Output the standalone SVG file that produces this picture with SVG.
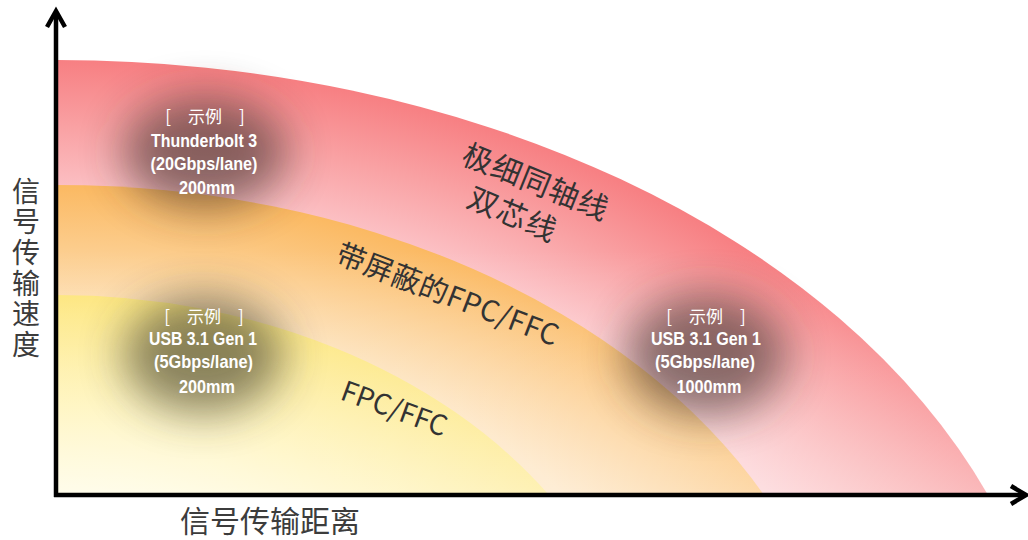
<svg xmlns="http://www.w3.org/2000/svg" width="1028" height="540" viewBox="0 0 1028 540">
<style>
.ex{font-family:"Liberation Sans",Arial,sans-serif;font-weight:bold;font-size:19px;fill:#ffffff;text-anchor:middle}
.br{font-family:"Noto Sans CJK SC","Noto Sans",sans-serif;font-size:17px;fill:#ffffff;text-anchor:middle}
.big{font-family:"Noto Sans CJK SC","Noto Sans",sans-serif;fill:#333333}
.ax{font-family:"Noto Sans CJK SC","Noto Sans",sans-serif;fill:#3c3c3c}
.axis{stroke:#000;stroke-width:4.5;fill:none}
.blob{opacity:0.6}
</style>
<defs>
<radialGradient id="gRed" gradientUnits="userSpaceOnUse" cx="57" cy="745" r="685" gradientTransform="translate(57 745) scale(1.46 1) translate(-57 -745)">
<stop offset="0.80" stop-color="#fcc4c8"/>
<stop offset="0.9" stop-color="#f9a2a4"/>
<stop offset="1" stop-color="#f77f82"/>
</radialGradient>
<radialGradient id="gOrange" gradientUnits="userSpaceOnUse" cx="57" cy="745" r="560" gradientTransform="translate(57 745) scale(1.411 1) translate(-57 -745)">
<stop offset="0.78" stop-color="#fddfb4"/>
<stop offset="1" stop-color="#fbb962"/>
</radialGradient>
<radialGradient id="gYellow" gradientUnits="userSpaceOnUse" cx="57" cy="745" r="450" gradientTransform="translate(57 745) scale(1.316 1) translate(-57 -745)">
<stop offset="0.55" stop-color="#fffbdc"/>
<stop offset="0.75" stop-color="#fff2ae"/>
<stop offset="1" stop-color="#fde578"/>
</radialGradient>
<linearGradient id="gWhite" gradientUnits="userSpaceOnUse" x1="0" y1="250" x2="0" y2="495">
<stop offset="0" stop-color="#ffffff" stop-opacity="0"/>
<stop offset="1" stop-color="#ffffff" stop-opacity="0.45"/>
</linearGradient>
<filter id="blur" x="-70%" y="-70%" width="240%" height="240%">
<feGaussianBlur stdDeviation="22"/>
</filter>
</defs>
<rect width="1028" height="540" fill="#ffffff"/>
<g id="bands">
<path id="band-red" d="M57,495 L57,60 A1000,685 0 0 1 988,495 Z" fill="url(#gRed)"/>
<path id="band-orange" d="M57,495 L57,185 A790,560 0 0 1 764,495 Z" fill="url(#gOrange)"/>
<path id="band-yellow" d="M57,495 L57,295 A592,450 0 0 1 549,495 Z" fill="url(#gYellow)"/>
<path id="band-fade" d="M57,495 L57,250 L1000,250 L1000,495 Z" fill="url(#gWhite)"/>
</g>
<g id="blobs">
<ellipse class="blob" cx="205" cy="152" rx="82" ry="55" fill="#3e2e2a" filter="url(#blur)"/>
<ellipse class="blob" cx="203" cy="355" rx="80" ry="58" fill="#3e3a28" filter="url(#blur)"/>
<ellipse class="blob" cx="706" cy="355" rx="80" ry="60" fill="#3e2e2a" filter="url(#blur)"/>
</g>
<g id="band-labels">
<g transform="translate(460 163) rotate(22)"><text class="big" font-size="30" letter-spacing="1">极细同轴线</text></g>
<g transform="translate(465 206) rotate(23)"><text class="big" font-size="30" letter-spacing="1.5">双芯线</text></g>
<g transform="translate(334 262) rotate(21)"><text class="big" font-size="29" letter-spacing="0.5">带屏蔽的FPC/FFC</text></g>
<g transform="translate(339 399) rotate(20)"><text class="big" font-size="28">FPC/FFC</text></g>
</g>
<g id="example-1">
<text class="br" x="205" y="123">[　示例　]</text>
<text class="ex" x="204" y="146.5" textLength="106" lengthAdjust="spacingAndGlyphs">Thunderbolt 3</text>
<text class="ex" x="204" y="170" textLength="107" lengthAdjust="spacingAndGlyphs">(20Gbps/lane)</text>
<text class="ex" x="207" y="193.5" textLength="56" lengthAdjust="spacingAndGlyphs">200mm</text>
</g>
<g id="example-2">
<text class="br" x="204" y="323">[　示例　]</text>
<text class="ex" x="203" y="345" textLength="108" lengthAdjust="spacingAndGlyphs">USB 3.1 Gen 1</text>
<text class="ex" x="203.5" y="368" textLength="99" lengthAdjust="spacingAndGlyphs">(5Gbps/lane)</text>
<text class="ex" x="207" y="393" textLength="56" lengthAdjust="spacingAndGlyphs">200mm</text>
</g>
<g id="example-3">
<text class="br" x="706" y="323">[　示例　]</text>
<text class="ex" x="706" y="345" textLength="110" lengthAdjust="spacingAndGlyphs">USB 3.1 Gen 1</text>
<text class="ex" x="705" y="368" textLength="100" lengthAdjust="spacingAndGlyphs">(5Gbps/lane)</text>
<text class="ex" x="709" y="393" textLength="65" lengthAdjust="spacingAndGlyphs">1000mm</text>
</g>
<g id="connectors">
<line class="axis" x1="56" y1="497" x2="56" y2="12"/>
<polyline class="axis" points="47,27 56,11 65,27"/>
<line class="axis" x1="54" y1="495" x2="1024" y2="495"/>
<polyline class="axis" points="1011,486 1026,495 1011,504"/>
</g>
<g id="axis-labels">
<text class="ax" font-size="28" x="26" y="177" writing-mode="vertical-rl" letter-spacing="2.7">信号传输速度</text>
<text class="ax" font-size="30" x="270" y="532" text-anchor="middle">信号传输距离</text>
</g>
</svg>
